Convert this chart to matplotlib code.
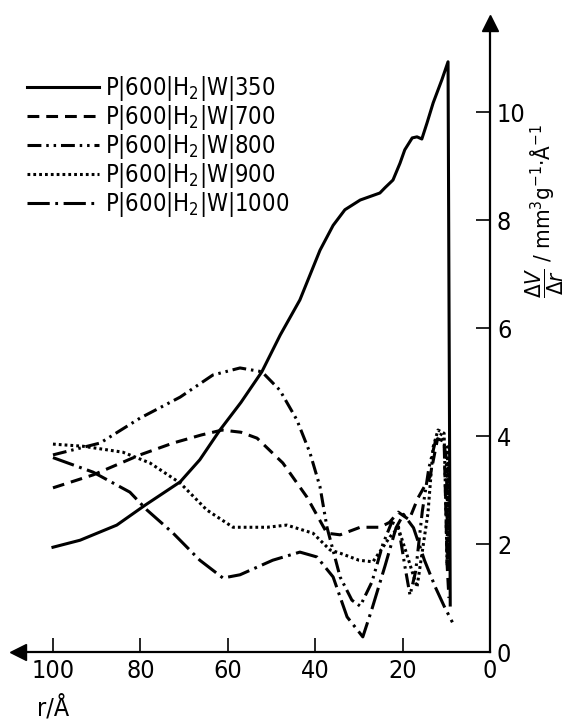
import numpy as np
import matplotlib
matplotlib.use('Agg')
import matplotlib.pyplot as plt

plt.rcParams['font.family'] = ['DejaVu Sans']
plt.rcParams['font.stretch'] = 'condensed'
plt.rcParams['lines.scale_dashes'] = False

# pore radius r / A  and  dV/dr
r_350 = [100, 93.8, 85.4, 78.9, 70.9, 66.4, 61.8, 57, 52.2, 48, 43.5, 38.9, 35.9, 33.2, 29.7,
         25.2, 24, 22.2, 20.6, 19.5, 17.8, 16.7, 15.6, 14.4, 13, 11, 9.6, 9.1]
v_350 = [1.94, 2.07, 2.35, 2.72, 3.15, 3.56, 4.11, 4.62, 5.19, 5.87, 6.52, 7.44, 7.9, 8.19, 8.37,
         8.5, 8.6, 8.74, 9.05, 9.3, 9.52, 9.54, 9.5, 9.8, 10.17, 10.6, 10.93, 0.87]

r_700 = [100, 90.8, 80.1, 72.5, 66, 61.3, 57, 53.3, 47.4, 41.9, 37.3, 34.3, 29.7, 25.2, 23,
         21, 18.5, 16.5, 13.7, 12, 10.5, 9.8, 9.4]
v_700 = [3.04, 3.28, 3.65, 3.87, 4.02, 4.11, 4.07, 3.96, 3.5, 2.87, 2.2, 2.17, 2.31, 2.31, 2.4,
         2.59, 2.45, 2.85, 3.25, 3.95, 3.9, 1.6, 1.0]

r_800 = [100, 89.2, 80.1, 70.9, 63.4, 57.2, 52.2, 48.1, 44.2, 41.2, 38.9, 37.3, 34.3, 31.6, 29.7,
         27, 24.5, 22.5, 21, 19.5, 18.3, 17, 15.5, 14, 12.5, 11, 10, 9.6]
v_800 = [3.65, 3.87, 4.33, 4.72, 5.13, 5.26, 5.19, 4.85, 4.3, 3.69, 3.06, 2.31, 1.39, 0.96, 0.85,
         1.3, 2.0, 2.4, 2.35, 1.6, 1.05, 1.5, 2.6, 3.4, 3.9, 4.05, 3.6, 1.5]

r_900 = [100, 93.1, 84, 77.8, 70.9, 64.8, 58.8, 51, 46.5, 40.5, 36.6, 34.3, 30, 26.8, 22.9,
         21, 19, 16.7, 14.2, 13, 11.9, 10.5, 9.8, 9.7, 9.6, 9.5, 9.4, 9.3]
v_900 = [3.85, 3.81, 3.7, 3.5, 3.13, 2.63, 2.31, 2.31, 2.35, 2.2, 1.89, 1.83, 1.7, 1.67, 2.13,
         2.3, 1.8, 1.2, 2.57, 3.8, 4.11, 4.05, 1.6, 3.8, 1.7, 3.5, 1.5, 2.5]

r_1000 = [100, 90.8, 82.4, 78.5, 72.5, 66.4, 61.1, 57.2, 49.7, 43.5, 39.6, 35.9, 32.7, 29.1,
          27, 24, 21.5, 19.8, 17.5, 15, 12.5, 10.5, 8.6]
v_1000 = [3.6, 3.33, 2.96, 2.63, 2.2, 1.7, 1.37, 1.43, 1.7, 1.85, 1.76, 1.39, 0.65, 0.28,
          0.8, 1.6, 2.3, 2.55, 2.3, 1.7, 1.2, 0.85, 0.55]

labels = ['P|600|H$_2$|W|350', 'P|600|H$_2$|W|700', 'P|600|H$_2$|W|800',
          'P|600|H$_2$|W|900', 'P|600|H$_2$|W|1000']
x_ticks = [100, 80, 60, 40, 20, 0]
y_ticks = [0, 2, 4, 6, 8, 10]

styles = ['-', (0, (8.5, 5)), (0, (10, 3.5, 1.8, 3.5, 1.8, 3.5)), (0, (2, 2.2)), (0, (16, 4, 2, 4))]
curves = [(r_350, v_350), (r_700, v_700), (r_800, v_800), (r_900, v_900), (r_1000, v_1000)]

fig = plt.figure(figsize=(5.76, 7.2), dpi=100)
ax = fig.add_axes([18/576, 68/720, (490-18)/576, (652-23)/720])

for (r, v), ls, lab in zip(curves, styles, labels):
    ax.plot(r, v, color='black', lw=2.2, linestyle=ls, label=lab)

ax.set_xlim(108, 0)
ax.set_ylim(0, 629/54)
ax.set_xticks(x_ticks)
ax.set_yticks(y_ticks)

ax.spines['top'].set_visible(False)
ax.spines['left'].set_visible(False)
ax.spines['right'].set_linewidth(1.6)
ax.spines['bottom'].set_linewidth(1.6)
ax.yaxis.tick_right()
ax.tick_params(direction='in', length=10, width=1.2, labelsize=18, pad=5)

# arrow heads on the axes
ax.plot([1], [1], marker='^', color='black', markersize=12, transform=ax.transAxes, clip_on=False)
ax.plot([0], [0], marker='<', color='black', markersize=12, transform=ax.transAxes, clip_on=False)

ax.legend(loc='upper left', bbox_to_anchor=(27/576, 1-74/720), bbox_transform=fig.transFigure,
          frameon=False, fontsize=17, handlelength=3.05, handletextpad=0.25,
          labelspacing=0.0, borderpad=0, borderaxespad=0)

fig.text(545/576, 1-211/720, r'$\dfrac{\Delta V}{\Delta r}$ / mm$^3$g$^{-1}$$\cdot$Å$^{-1}$',
         rotation=90, ha='center', va='center', fontsize=16)
fig.text(37/576, 1-716/720, 'r/Å', fontsize=18, ha='left', va='baseline')

fig.savefig('out.png', dpi=100)
